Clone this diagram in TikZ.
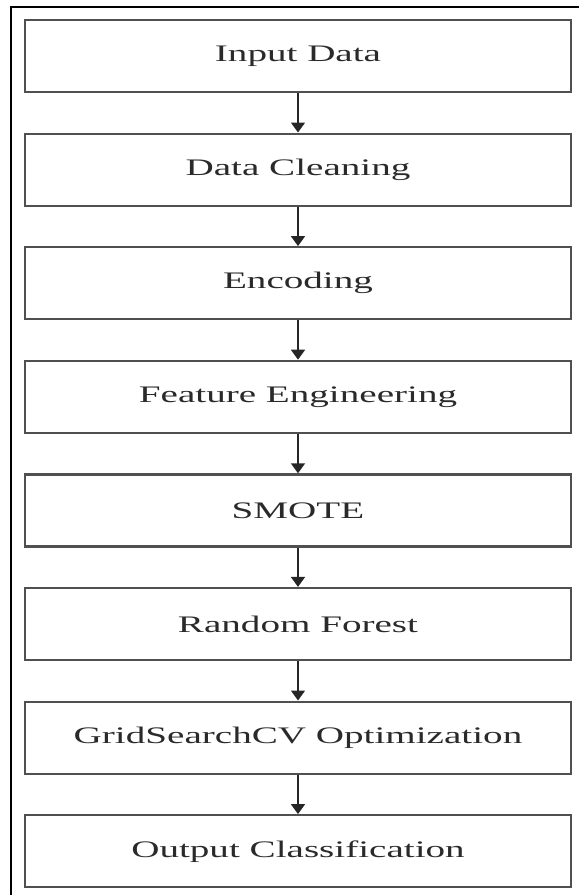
\documentclass[tikz,border=0pt]{standalone}
\usepackage{fontspec}
\usepackage{graphicx}
\setmainfont{Liberation Serif}
\usetikzlibrary{arrows.meta}
\newcommand{\wtxt}[1]{\scalebox{1.65}[1]{#1}}
\definecolor{boxline}{HTML}{505050}
\definecolor{txtcol}{HTML}{2A2A2A}
\tikzset{
  stage/.style={draw=boxline, line width=2.2pt, minimum width=546pt, minimum height=72pt,
    inner sep=0pt, text=txtcol, font=\fontsize{23.7}{28}\selectfont},
  flow/.style={draw=black!85, line width=1.6pt, -{Triangle[length=10pt,width=14pt]}},
  frameline/.style={draw=black, line width=1.3pt}
}
\begin{document}
\begin{tikzpicture}[x=1pt,y=-1pt]
\useasboundingbox (0,0) rectangle (579,895);
\coordinate (fa) at (11,895);
\coordinate (fb) at (11,7);
\coordinate (fc) at (579,7);
\draw[frameline] (fa) -- (fb) -- (fc);
\node[stage] (s1) at (298,56)    {\wtxt{Input Data}};
\node[stage] (s2) at (298,169.6) {\wtxt{Data Cleaning}};
\node[stage] (s3) at (298,283.2) {\wtxt{Encoding}};
\node[stage] (s4) at (298,396.8) {\wtxt{Feature Engineering}};
\node[stage] (s5) at (298,510.4) {\wtxt{SMOTE}};
\node[stage] (s6) at (298,624)   {\wtxt{Random Forest}};
\node[stage] (s7) at (298,737.6) {\wtxt{GridSearchCV Optimization}};
\node[stage] (s8) at (298,851.2) {\wtxt{Output Classification}};
\foreach \a/\b in {s1/s2,s2/s3,s3/s4,s4/s5,s5/s6,s6/s7,s7/s8}
  \draw[flow] (\a.south) -- (\b.north);
\end{tikzpicture}
\end{document}
